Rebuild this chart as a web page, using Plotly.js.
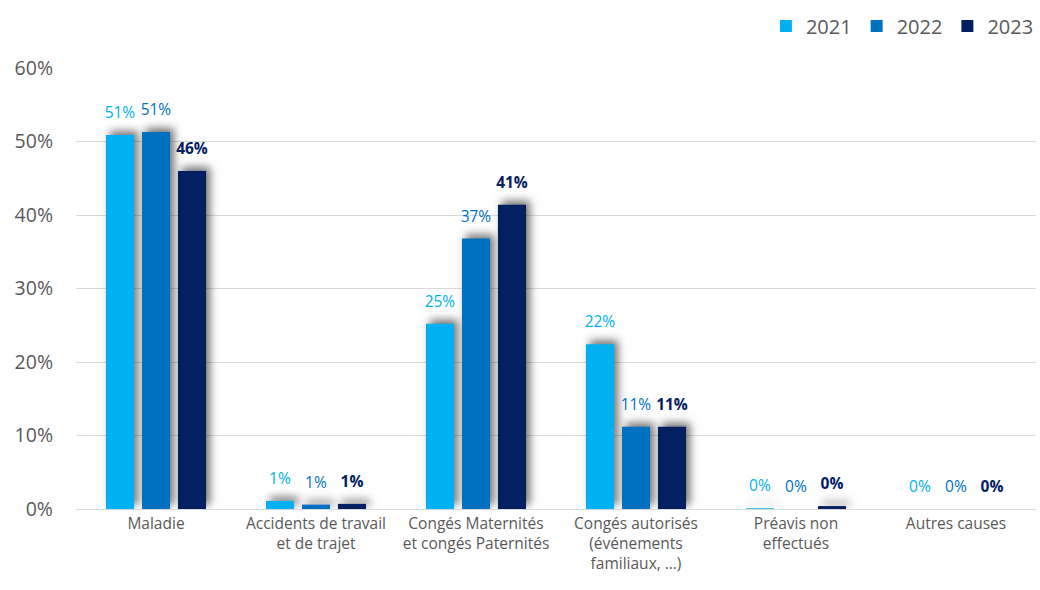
<!DOCTYPE html>
<html>
<head>
<meta charset="utf-8">
<script src="https://cdn.plot.ly/plotly-3.0.1.min.js"></script>
<style>
  html, body { margin: 0; padding: 0; background: #fff; }
  #chart { width: 1040px; height: 590px; }
  .barlayer .point path { filter: drop-shadow(4px -4px 4px rgba(0,0,0,0.55)); }
  .barlayer text.bartext { translate: 0 -9px; }
</style>
</head>
<body>
<div id="chart"></div>
<script>
const categories = [
  "Maladie",
  "Accidents de travail<br>et de trajet",
  "Congés Maternités<br>et congés Paternités",
  "Congés autorisés<br>(événements<br>familiaux, …)",
  "Préavis non<br>effectués",
  "Autres causes"
];
const seriesNames = ["2021", "2022", "2023"];
const values2021 = [0.509, 0.011, 0.252, 0.224, 0.001, 0.0];
const values2022 = [0.513, 0.006, 0.368, 0.112, 0.0, 0.0];
const values2023 = [0.460, 0.007, 0.414, 0.112, 0.004, 0.0];
const colors = ["#00B0F0", "#0070C0", "#002060"];
const labelFmt = v => Math.round(v * 100) + "%";

const allValues = [values2021, values2022, values2023];
const traces = allValues.map((vals, i) => ({
  type: "bar",
  name: seriesNames[i],
  x: categories,
  y: vals,
  marker: { color: colors[i] },
  text: vals.map(v => i === 2 ? "<b>" + labelFmt(v) + "</b>" : labelFmt(v)),
  textposition: "outside",
  constraintext: "none",
  cliponaxis: false,
  textfont: { family: "Open Sans, sans-serif", size: 15.5, color: colors[i] },
  hoverinfo: "none"
}));

const layout = {
  width: 1040, height: 590,
  margin: { l: 76, r: 4, t: 68, b: 81, autoexpand: false },
  paper_bgcolor: "#fff", plot_bgcolor: "#fff",
  barmode: "group",
  bargap: 0.325,
  bargroupgap: 0.22,
  font: { family: "Open Sans, sans-serif", color: "#595959" },
  xaxis: {
    type: "category",
    showline: true, linecolor: "#D9D9D9", linewidth: 1,
    ticks: "", showgrid: false, automargin: false,
    tickfont: { size: 15.5, color: "#595959" }
  },
  yaxis: {
    range: [0, 0.6],
    tickvals: [0, 0.1, 0.2, 0.3, 0.4, 0.5, 0.6],
    ticktext: ["0%", "10%", "20%", "30%", "40%", "50%", "60%"],
    showgrid: true, gridcolor: "#D9D9D9", gridwidth: 1,
    zeroline: false, showline: false, ticks: "", automargin: false,
    ticklabelstandoff: 22,
    tickfont: { size: 19.5, color: "#595959" }
  },
  showlegend: true,
  legend: {
    orientation: "h", x: 1.003, xanchor: "right", y: 1.095, yanchor: "middle",
    font: { size: 20, color: "#595959" },
    itemwidth: 30, traceorder: "normal"
  }
};

Plotly.newPlot("chart", traces, layout, { staticPlot: true, displayModeBar: false });
</script>
</body>
</html>
